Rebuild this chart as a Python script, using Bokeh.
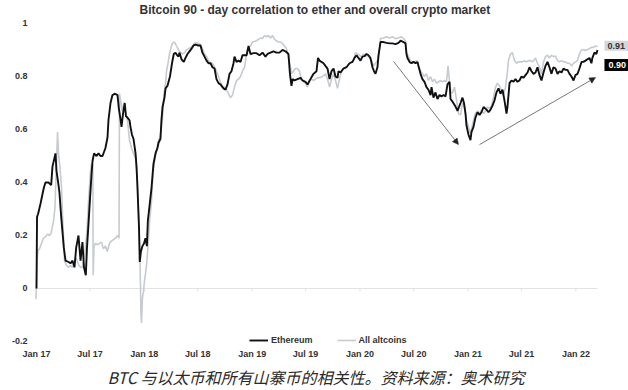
import numpy as np
import pandas as pd
from bokeh.plotting import figure
from bokeh.models import Range1d, FixedTicker, Label, Legend, LegendItem, Arrow, NormalHead, Title
from bokeh.embed import file_html
from bokeh.resources import INLINE

# ---- data (years since 2017-01-01, correlation) ----
eth_years = [0.000, 0.005, 0.014, 0.037, 0.068, 0.083, 0.111, 0.136, 0.148, 0.176, 0.185, 0.204, 0.213, 0.229,
             0.253, 0.269, 0.297, 0.315, 0.334, 0.352, 0.368, 0.389, 0.408, 0.426, 0.440, 0.457, 0.468, 0.482,
             0.496, 0.510, 0.519, 0.533, 0.556, 0.575, 0.593, 0.612, 0.639, 0.658, 0.667, 0.686, 0.704, 0.728,
             0.751, 0.763, 0.778, 0.788, 0.802, 0.818, 0.829, 0.843, 0.862, 0.871, 0.885, 0.899, 0.918, 0.927,
             0.936, 0.943, 0.950, 0.957, 0.968, 0.982, 0.996, 1.010, 1.023, 1.032, 1.047, 1.066, 1.084, 1.103,
             1.121, 1.131, 1.149, 1.158, 1.168, 1.186, 1.196, 1.214, 1.237, 1.256, 1.272, 1.288, 1.304, 1.316,
             1.325, 1.344, 1.365, 1.381, 1.399, 1.418, 1.437, 1.455, 1.474, 1.501, 1.520, 1.538, 1.557, 1.576,
             1.594, 1.613, 1.631, 1.650, 1.668, 1.687, 1.705, 1.733, 1.752, 1.770, 1.789, 1.807, 1.826, 1.835,
             1.854, 1.872, 1.891, 1.909, 1.947, 1.965, 1.983, 2.011, 2.039, 2.067, 2.095, 2.122, 2.141, 2.169,
             2.196, 2.224, 2.252, 2.280, 2.308, 2.335, 2.349, 2.363, 2.373, 2.391, 2.419, 2.447, 2.465, 2.493,
             2.512, 2.539, 2.567, 2.595, 2.609, 2.623, 2.641, 2.660, 2.678, 2.697, 2.716, 2.734, 2.753, 2.771,
             2.790, 2.799, 2.818, 2.845, 2.873, 2.901, 2.929, 2.947, 2.966, 2.984, 3.003, 3.021, 3.040, 3.058,
             3.077, 3.095, 3.114, 3.128, 3.142, 3.160, 3.170, 3.188, 3.216, 3.244, 3.272, 3.299, 3.327, 3.355,
             3.374, 3.401, 3.420, 3.429, 3.438, 3.457, 3.475, 3.494, 3.513, 3.531, 3.540, 3.559, 3.577, 3.596,
             3.614, 3.633, 3.652, 3.661, 3.679, 3.698, 3.716, 3.735, 3.753, 3.772, 3.791, 3.809, 3.828, 3.837,
             3.856, 3.879, 3.902, 3.930, 3.948, 3.962, 3.976, 3.985, 4.004, 4.022, 4.031, 4.050, 4.068, 4.087,
             4.106, 4.124, 4.143, 4.171, 4.189, 4.208, 4.226, 4.245, 4.263, 4.282, 4.300, 4.319, 4.337, 4.356,
             4.365, 4.384, 4.402, 4.421, 4.439, 4.458, 4.476, 4.495, 4.513, 4.532, 4.551, 4.569, 4.588, 4.606,
             4.625, 4.643, 4.662, 4.680, 4.699, 4.717, 4.736, 4.754, 4.773, 4.791, 4.810, 4.829, 4.847, 4.866,
             4.884, 4.903, 4.921, 4.940, 4.958, 4.977, 4.995, 5.014, 5.032, 5.051, 5.069, 5.088, 5.106, 5.125,
             5.143, 5.152, 5.171, 5.189, 5.199]
eth_values = [0.00, 0.27, 0.28, 0.32, 0.38, 0.40, 0.40, 0.39, 0.46, 0.51, 0.445, 0.39, 0.36, 0.27,
              0.155, 0.105, 0.10, 0.095, 0.105, 0.08, 0.155, 0.20, 0.105, 0.175, 0.08, 0.05, 0.155, 0.245,
              0.34, 0.43, 0.48, 0.51, 0.50, 0.51, 0.50, 0.50, 0.53, 0.57, 0.635, 0.70, 0.73, 0.735,
              0.73, 0.68, 0.64, 0.61, 0.66, 0.70, 0.65, 0.645, 0.635, 0.61, 0.58, 0.565, 0.51, 0.46,
              0.38, 0.305, 0.23, 0.10, 0.14, 0.16, 0.17, 0.19, 0.16, 0.255, 0.31, 0.38, 0.47, 0.51,
              0.53, 0.55, 0.565, 0.635, 0.685, 0.72, 0.755, 0.765, 0.80, 0.85, 0.885, 0.89, 0.88, 0.875,
              0.89, 0.865, 0.855, 0.87, 0.885, 0.895, 0.905, 0.917, 0.92, 0.917, 0.917, 0.89, 0.875, 0.86,
              0.85, 0.85, 0.835, 0.83, 0.79, 0.775, 0.77, 0.755, 0.75, 0.77, 0.81, 0.82, 0.85, 0.875,
              0.855, 0.86, 0.855, 0.88, 0.88, 0.915, 0.885, 0.888, 0.888, 0.88, 0.89, 0.875, 0.885, 0.89,
              0.895, 0.89, 0.89, 0.90, 0.895, 0.885, 0.81, 0.765, 0.79, 0.785, 0.79, 0.795, 0.785, 0.78,
              0.77, 0.79, 0.81, 0.82, 0.87, 0.86, 0.855, 0.85, 0.84, 0.83, 0.79, 0.82, 0.83, 0.80,
              0.795, 0.82, 0.815, 0.83, 0.835, 0.85, 0.855, 0.87, 0.88, 0.87, 0.86, 0.875, 0.877, 0.885,
              0.88, 0.87, 0.835, 0.82, 0.81, 0.835, 0.88, 0.93, 0.93, 0.927, 0.925, 0.925, 0.922, 0.927,
              0.935, 0.93, 0.925, 0.885, 0.87, 0.855, 0.85, 0.855, 0.85, 0.855, 0.84, 0.81, 0.79, 0.78,
              0.76, 0.75, 0.73, 0.76, 0.72, 0.74, 0.715, 0.73, 0.725, 0.73, 0.725, 0.77, 0.78, 0.715,
              0.705, 0.69, 0.67, 0.70, 0.72, 0.70, 0.66, 0.615, 0.58, 0.56, 0.59, 0.61, 0.645, 0.665,
              0.655, 0.665, 0.685, 0.675, 0.665, 0.675, 0.69, 0.71, 0.74, 0.755, 0.735, 0.75, 0.71, 0.66,
              0.685, 0.775, 0.785, 0.78, 0.79, 0.78, 0.785, 0.80, 0.795, 0.805, 0.815, 0.835, 0.82, 0.81,
              0.815, 0.835, 0.805, 0.785, 0.815, 0.84, 0.855, 0.835, 0.81, 0.835, 0.83, 0.81, 0.82, 0.815,
              0.83, 0.825, 0.825, 0.81, 0.80, 0.785, 0.805, 0.81, 0.83, 0.855, 0.855, 0.86, 0.865, 0.87,
              0.85, 0.87, 0.89, 0.885, 0.90]

alt_years = [-0.005, 0.005, 0.014, 0.028, 0.046, 0.065, 0.083, 0.102, 0.120, 0.136, 0.158, 0.171, 0.185, 0.195,
             0.204, 0.218, 0.232, 0.241, 0.253, 0.259, 0.278, 0.297, 0.315, 0.334, 0.352, 0.368, 0.389, 0.408,
             0.424, 0.445, 0.463, 0.473, 0.482, 0.494, 0.500, 0.510, 0.522, 0.525, 0.533, 0.547, 0.565, 0.584,
             0.602, 0.621, 0.639, 0.655, 0.677, 0.695, 0.714, 0.732, 0.751, 0.765, 0.769, 0.783, 0.794, 0.811,
             0.825, 0.843, 0.862, 0.880, 0.899, 0.918, 0.931, 0.941, 0.950, 0.959, 0.964, 0.968, 0.973, 0.982,
             0.992, 1.001, 1.010, 1.024, 1.038, 1.052, 1.066, 1.080, 1.094, 1.112, 1.131, 1.145, 1.158, 1.168,
             1.182, 1.196, 1.205, 1.219, 1.233, 1.247, 1.260, 1.279, 1.298, 1.316, 1.335, 1.353, 1.372, 1.390,
             1.409, 1.427, 1.446, 1.464, 1.483, 1.501, 1.520, 1.538, 1.557, 1.576, 1.594, 1.613, 1.631, 1.650,
             1.668, 1.687, 1.705, 1.724, 1.742, 1.761, 1.779, 1.798, 1.817, 1.835, 1.854, 1.872, 1.891, 1.909,
             1.928, 1.947, 1.965, 1.983, 2.002, 2.020, 2.039, 2.057, 2.076, 2.095, 2.113, 2.132, 2.150, 2.169,
             2.187, 2.206, 2.224, 2.243, 2.261, 2.280, 2.298, 2.317, 2.335, 2.354, 2.363, 2.382, 2.400, 2.419,
             2.437, 2.456, 2.474, 2.493, 2.512, 2.530, 2.549, 2.567, 2.586, 2.604, 2.623, 2.651, 2.678, 2.697,
             2.716, 2.734, 2.753, 2.771, 2.790, 2.808, 2.827, 2.845, 2.864, 2.883, 2.901, 2.919, 2.938, 2.956,
             2.975, 2.994, 3.012, 3.031, 3.049, 3.068, 3.086, 3.105, 3.123, 3.142, 3.160, 3.174, 3.188, 3.216,
             3.244, 3.272, 3.299, 3.327, 3.355, 3.383, 3.401, 3.420, 3.429, 3.448, 3.466, 3.485, 3.503, 3.522,
             3.540, 3.559, 3.577, 3.596, 3.614, 3.633, 3.652, 3.670, 3.689, 3.707, 3.726, 3.744, 3.763, 3.781,
             3.800, 3.814, 3.828, 3.842, 3.856, 3.874, 3.893, 3.911, 3.930, 3.948, 3.967, 3.985, 4.004, 4.022,
             4.036, 4.050, 4.068, 4.087, 4.106, 4.124, 4.143, 4.161, 4.180, 4.198, 4.217, 4.235, 4.254, 4.272,
             4.291, 4.310, 4.328, 4.347, 4.365, 4.374, 4.393, 4.411, 4.430, 4.449, 4.467, 4.486, 4.504, 4.523,
             4.541, 4.560, 4.578, 4.597, 4.625, 4.643, 4.662, 4.680, 4.699, 4.717, 4.736, 4.754, 4.773, 4.791,
             4.810, 4.829, 4.847, 4.866, 4.884, 4.903, 4.921, 4.940, 4.958, 4.977, 4.995, 5.014, 5.032, 5.051,
             5.069, 5.088, 5.106, 5.125, 5.143, 5.162, 5.180, 5.199]
alt_values = [-0.04, 0.105, 0.145, 0.15, 0.17, 0.19, 0.195, 0.205, 0.20, 0.21, 0.255, 0.305, 0.47, 0.59,
              0.51, 0.455, 0.38, 0.28, 0.17, 0.105, 0.087, 0.08, 0.087, 0.08, 0.10, 0.115, 0.09, 0.08,
              0.08, 0.125, 0.195, 0.255, 0.33, 0.40, 0.445, 0.47, 0.47, 0.05, 0.16, 0.17, 0.165, 0.17,
              0.175, 0.15, 0.16, 0.14, 0.17, 0.18, 0.185, 0.19, 0.20, 0.19, 0.735, 0.70, 0.67, 0.70,
              0.665, 0.635, 0.56, 0.53, 0.51, 0.49, 0.435, 0.33, 0.23, 0.105, 0.005, -0.095, -0.13, -0.035,
              -0.01, 0.03, 0.055, 0.105, 0.19, 0.27, 0.33, 0.435, 0.48, 0.52, 0.56, 0.57, 0.61, 0.645,
              0.735, 0.775, 0.82, 0.85, 0.885, 0.91, 0.925, 0.93, 0.915, 0.90, 0.89, 0.885, 0.89, 0.90,
              0.905, 0.91, 0.915, 0.925, 0.927, 0.925, 0.92, 0.905, 0.885, 0.875, 0.86, 0.85, 0.85, 0.835,
              0.82, 0.80, 0.78, 0.76, 0.76, 0.75, 0.735, 0.72, 0.73, 0.76, 0.785, 0.79, 0.80, 0.82,
              0.835, 0.885, 0.91, 0.915, 0.93, 0.932, 0.935, 0.94, 0.945, 0.943, 0.955, 0.95, 0.955, 0.945,
              0.955, 0.94, 0.935, 0.93, 0.93, 0.925, 0.915, 0.905, 0.875, 0.835, 0.81, 0.82, 0.83, 0.83,
              0.82, 0.79, 0.78, 0.775, 0.76, 0.785, 0.79, 0.785, 0.79, 0.795, 0.795, 0.80, 0.81, 0.79,
              0.76, 0.79, 0.81, 0.785, 0.755, 0.79, 0.82, 0.83, 0.835, 0.84, 0.85, 0.855, 0.86, 0.89,
              0.885, 0.88, 0.875, 0.885, 0.875, 0.88, 0.87, 0.86, 0.84, 0.85, 0.86, 0.89, 0.943, 0.945,
              0.95, 0.945, 0.95, 0.943, 0.945, 0.95, 0.943, 0.935, 0.89, 0.875, 0.86, 0.855, 0.855, 0.86,
              0.84, 0.82, 0.81, 0.80, 0.81, 0.785, 0.80, 0.78, 0.79, 0.775, 0.78, 0.785, 0.78, 0.785,
              0.78, 0.84, 0.78, 0.735, 0.74, 0.76, 0.71, 0.66, 0.655, 0.70, 0.685, 0.635, 0.61, 0.585,
              0.61, 0.635, 0.66, 0.67, 0.66, 0.675, 0.66, 0.67, 0.685, 0.68, 0.69, 0.72, 0.76, 0.775,
              0.765, 0.745, 0.73, 0.76, 0.82, 0.86, 0.885, 0.89, 0.86, 0.85, 0.855, 0.855, 0.855, 0.86,
              0.855, 0.86, 0.86, 0.855, 0.87, 0.85, 0.835, 0.81, 0.855, 0.875, 0.88, 0.87, 0.88, 0.875,
              0.877, 0.86, 0.855, 0.86, 0.855, 0.855, 0.85, 0.85, 0.84, 0.85, 0.855, 0.86, 0.885, 0.90,
              0.902, 0.898, 0.902, 0.905, 0.91, 0.91, 0.915, 0.912]

tick_dates = ["2017-01-01", "2017-07-01", "2018-01-01", "2018-07-01", "2019-01-01", "2019-07-01",
              "2020-01-01", "2020-07-01", "2021-01-01", "2021-07-01", "2022-01-01"]
tick_labels = ["Jan 17", "Jul 17", "Jan 18", "Jul 18", "Jan 19", "Jul 19",
               "Jan 20", "Jul 20", "Jan 21", "Jul 21", "Jan 22"]
y_ticks = [-0.2, 0, 0.2, 0.4, 0.6, 0.8, 1.0]
y_tick_labels = ["-0.2", "0", "0.2", "0.4", "0.6", "0.8", "1"]

arrow_down_years = [3.309, 3.911]
arrow_down_values = [0.857, 0.543]
arrow_up_years = [4.106, 5.181]
arrow_up_values = [0.543, 0.796]

title_text = "Bitcoin 90 - day correlation to ether and overall crypto market"
caption_text = "BTC 与以太币和所有山寨币的相关性。资料来源：奥术研究"

# ---- helpers ----
base = pd.Timestamp("2017-01-01")

def to_dt(years):
    return base + pd.to_timedelta(np.asarray(years, dtype=float) * 365.25, unit="D")

def to_ms(years):
    return (to_dt(years).values.astype("datetime64[ns]").astype(np.int64) / 1e6)

eth_x = to_dt(eth_years)
alt_x = to_dt(alt_years)
tick_ms = [pd.Timestamp(d).value / 1e6 for d in tick_dates]

FONT = "Liberation Sans"
TXT = "#333333"

p = figure(width=628, height=390, output_backend="svg", toolbar_location=None,
           x_axis_type="datetime",
           x_range=Range1d(start=to_dt([-0.0556])[0], end=to_dt([5.4866])[0]),
           y_range=Range1d(-0.2151, 1.0113),
           min_border_left=30, min_border_right=0, min_border_top=20, min_border_bottom=45)
p.outline_line_color = None
p.xgrid.visible = False
p.ygrid.visible = False
p.background_fill_color = "white"

# title (above) and caption (below)
p.title = Title(text=title_text, align="left", offset=109, standoff=4, vertical_align="top",
                text_font=FONT, text_font_style="bold", text_font_size="12px", text_color=TXT)
p.add_layout(Title(text=caption_text, align="left", offset=77, standoff=3,
                   text_font="Noto Sans CJK SC", text_font_style="italic",
                   text_font_size="16px", text_color="#2a2a2a"), "below")

# x axis
p.xaxis.ticker = FixedTicker(ticks=tick_ms)
p.xaxis.major_label_overrides = {t: l for t, l in zip(tick_ms, tick_labels)}
p.xaxis.axis_line_color = None
p.xaxis.major_tick_line_color = None
p.xaxis.minor_tick_line_color = None
p.xaxis.major_tick_out = 0
p.xaxis.major_tick_in = 0
p.xaxis.minor_tick_out = 0
p.xaxis.major_label_standoff = 3
p.xaxis.major_label_text_font = FONT
p.xaxis.major_label_text_font_style = "bold"
p.xaxis.major_label_text_font_size = "9px"
p.xaxis.major_label_text_color = TXT

# y axis
p.yaxis.ticker = FixedTicker(ticks=y_ticks)
p.yaxis.major_label_overrides = {t: l for t, l in zip(y_ticks, y_tick_labels)}
p.yaxis.axis_line_color = None
p.yaxis.major_tick_line_color = None
p.yaxis.minor_tick_line_color = None
p.yaxis.major_tick_out = 0
p.yaxis.major_tick_in = 0
p.yaxis.minor_tick_out = 0
p.yaxis.major_label_standoff = 3
p.yaxis.major_label_text_font = FONT
p.yaxis.major_label_text_font_style = "bold"
p.yaxis.major_label_text_font_size = "9px"
p.yaxis.major_label_text_color = TXT

# zero line and its tick marks
p.segment(x0=[eth_x[0]], x1=[eth_x[-1]], y0=[0], y1=[0], line_color="#e2e2e2", line_width=1)
tick_dt = [pd.Timestamp(d) for d in tick_dates]
p.segment(x0=tick_dt, x1=tick_dt, y0=[0] * len(tick_dt), y1=[-0.011] * len(tick_dt),
          line_color="#e2e2e2", line_width=1)

# series
r_alt = p.line(alt_x, alt_values, line_color="#c6cbd2", line_width=1.6)
r_eth = p.line(eth_x, eth_values, line_color="#111111", line_width=1.9)

# arrows
for xs, ys in [(arrow_down_years, arrow_down_values), (arrow_up_years, arrow_up_values)]:
    ms = to_ms(xs)
    p.add_layout(Arrow(end=NormalHead(size=6, fill_color="#222222", line_color="#222222", line_width=0.5),
                       x_start=ms[0], y_start=ys[0], x_end=ms[1], y_end=ys[1],
                       line_color="#555555", line_width=0.8))

# end value labels
end_alt_ms = to_ms([alt_years[-1]])[0]
end_eth_ms = to_ms([eth_years[-1]])[0]
p.add_layout(Label(x=end_alt_ms, y=alt_values[-1], x_offset=7, y_offset=1,
                   text=f"{alt_values[-1]:.2f}", text_align="left", text_baseline="middle",
                   text_font=FONT, text_font_style="bold", text_font_size="9px", text_color=TXT,
                   background_fill_color="#d3d7dd", padding=(3, 2)))
p.add_layout(Label(x=end_eth_ms, y=eth_values[-1], x_offset=7, y_offset=-15,
                   text=f"{eth_values[-1]:.2f}", text_align="left", text_baseline="middle",
                   text_font=FONT, text_font_style="bold", text_font_size="9px", text_color="white",
                   background_fill_color="#000000", padding=(4, 3)))

# legend
legend = Legend(items=[LegendItem(label="Ethereum", renderers=[r_eth]),
                       LegendItem(label="All altcoins", renderers=[r_alt])],
                orientation="horizontal", location=(219, 0),
                background_fill_alpha=0, border_line_alpha=0,
                label_text_font=FONT, label_text_font_style="bold", label_text_font_size="9px",
                label_text_color=TXT, glyph_width=19, glyph_height=10, label_height=10,
                label_standoff=3, spacing=24, padding=0, margin=0)
p.add_layout(legend)

open("out.html", "w").write(file_html(p, INLINE))
